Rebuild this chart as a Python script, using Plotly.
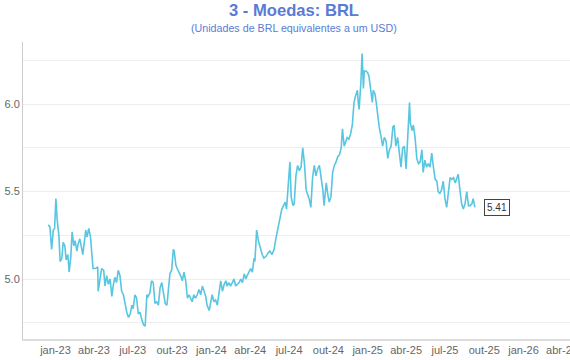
import plotly.graph_objects as go

dates = [
"2022-12-15","2022-12-19","2022-12-23","2022-12-27","2022-12-30",
"2023-01-02","2023-01-05","2023-01-09","2023-01-12","2023-01-16","2023-01-19","2023-01-23","2023-01-26","2023-01-30",
"2023-02-02","2023-02-06","2023-02-09","2023-02-13","2023-02-16","2023-02-20","2023-02-23","2023-02-27",
"2023-03-03","2023-03-06","2023-03-09","2023-03-13","2023-03-16","2023-03-20","2023-03-24","2023-03-28","2023-03-30",
"2023-04-05","2023-04-10","2023-04-11","2023-04-14","2023-04-19","2023-04-24","2023-04-27",
"2023-05-01","2023-05-05","2023-05-09","2023-05-13","2023-05-16","2023-05-20","2023-05-24","2023-05-28",
"2023-06-01","2023-06-05","2023-06-09","2023-06-13","2023-06-17","2023-06-21","2023-06-25","2023-06-29",
"2023-07-02","2023-07-06","2023-07-10","2023-07-14","2023-07-18","2023-07-22","2023-07-26","2023-07-30",
"2023-08-03","2023-08-06","2023-08-10","2023-08-14","2023-08-18","2023-08-22","2023-08-26","2023-08-30",
"2023-09-03","2023-09-07","2023-09-11","2023-09-15","2023-09-19","2023-09-22","2023-09-26","2023-09-30",
"2023-10-04","2023-10-06","2023-10-10","2023-10-13","2023-10-17","2023-10-21","2023-10-25","2023-10-29",
"2023-11-02","2023-11-06","2023-11-10","2023-11-14","2023-11-17","2023-11-21","2023-11-25","2023-11-29",
"2023-12-03","2023-12-07","2023-12-11","2023-12-15","2023-12-19","2023-12-22","2023-12-27","2023-12-30",
"2024-01-03","2024-01-07","2024-01-11","2024-01-15","2024-01-19","2024-01-23","2024-01-27","2024-01-31",
"2024-02-04","2024-02-07","2024-02-11","2024-02-15","2024-02-19","2024-02-23","2024-02-27",
"2024-03-02","2024-03-06","2024-03-10","2024-03-14","2024-03-18","2024-03-22","2024-03-25","2024-03-29",
"2024-04-02","2024-04-06","2024-04-10","2024-04-12","2024-04-16","2024-04-20","2024-04-24","2024-04-29",
"2024-05-03","2024-05-08","2024-05-13","2024-05-17","2024-05-22","2024-05-27","2024-05-31",
"2024-06-06","2024-06-10","2024-06-14","2024-06-18","2024-06-22","2024-06-25","2024-06-29",
"2024-07-03","2024-07-06","2024-07-10","2024-07-13","2024-07-17","2024-07-21","2024-07-25","2024-07-29",
"2024-08-02","2024-08-06","2024-08-10","2024-08-14","2024-08-17","2024-08-21","2024-08-25","2024-08-29",
"2024-09-02","2024-09-06","2024-09-10","2024-09-14","2024-09-18","2024-09-21","2024-09-26","2024-09-30",
"2024-10-03","2024-10-07","2024-10-11","2024-10-15","2024-10-19","2024-10-23","2024-10-27","2024-10-31",
"2024-11-03","2024-11-07","2024-11-11","2024-11-14","2024-11-18","2024-11-22","2024-11-26","2024-11-30",
"2024-12-04","2024-12-08","2024-12-10","2024-12-12","2024-12-16","2024-12-19","2024-12-22","2024-12-24","2024-12-28",
"2025-01-01","2025-01-04","2025-01-08","2025-01-12","2025-01-14","2025-01-18","2025-01-21","2025-01-25","2025-01-28",
"2025-02-01","2025-02-05","2025-02-09","2025-02-13","2025-02-17","2025-02-21","2025-02-25",
"2025-03-01","2025-03-04","2025-03-08","2025-03-12","2025-03-16","2025-03-20","2025-03-24","2025-03-28",
"2025-04-01","2025-04-05","2025-04-09","2025-04-11","2025-04-15","2025-04-18","2025-04-22","2025-04-26","2025-04-30",
"2025-05-04","2025-05-08","2025-05-11","2025-05-15","2025-05-19","2025-05-23","2025-05-27","2025-05-31",
"2025-06-04","2025-06-08","2025-06-12","2025-06-15","2025-06-19","2025-06-23","2025-06-27",
"2025-07-01","2025-07-05","2025-07-09","2025-07-13","2025-07-17","2025-07-21","2025-07-25","2025-07-29",
"2025-08-01","2025-08-05","2025-08-09","2025-08-13","2025-08-17","2025-08-21","2025-08-25","2025-08-29",
"2025-09-02","2025-09-05","2025-09-09",
]

brl = [
5.31,5.30,5.17,5.28,5.29,
5.46,5.34,5.25,5.10,5.12,5.21,5.19,5.11,5.14,
5.04,5.13,5.27,5.19,5.22,5.16,5.20,5.23,
5.18,5.14,5.20,5.28,5.24,5.29,5.24,5.14,5.06,
5.06,5.07,4.93,4.99,5.06,5.05,4.96,
5.02,4.97,5.00,4.90,4.96,5.01,4.98,5.05,
5.02,4.93,4.91,4.85,4.81,4.78,4.80,4.85,
4.83,4.91,4.89,4.80,4.81,4.77,4.74,4.73,
4.91,4.90,4.92,4.99,4.98,4.86,4.87,4.85,
4.95,4.98,4.93,4.86,4.85,4.94,5.03,5.05,
5.17,5.16,5.08,5.06,5.04,5.02,4.99,5.04,
4.99,4.89,4.91,4.89,4.87,4.91,4.89,4.91,
4.94,4.91,4.96,4.93,4.90,4.85,4.82,4.86,
4.91,4.87,4.88,4.85,4.91,4.99,4.93,4.97,
4.99,4.96,4.98,4.96,4.98,5.00,4.96,
4.97,4.98,5.00,4.98,5.03,5.00,5.02,5.04,
5.06,5.04,5.12,5.10,5.28,5.22,5.18,5.14,
5.12,5.13,5.15,5.16,5.14,5.17,5.23,
5.30,5.35,5.40,5.42,5.44,5.40,5.52,
5.67,5.47,5.42,5.43,5.59,5.65,5.62,5.64,
5.75,5.66,5.51,5.48,5.46,5.41,5.58,5.65,
5.59,5.63,5.65,5.58,5.51,5.42,5.55,5.48,
5.44,5.47,5.61,5.65,5.67,5.70,5.71,5.75,
5.86,5.76,5.79,5.81,5.80,5.83,5.88,6.01,
6.05,6.08,6.01,5.97,6.12,6.29,6.09,6.19,6.19,
6.18,6.16,6.08,6.01,6.08,6.06,6.01,5.92,5.87,
5.82,5.76,5.81,5.79,5.69,5.74,5.76,
5.87,5.88,5.76,5.81,5.71,5.64,5.75,5.76,
5.63,5.82,6.01,5.89,5.85,5.88,5.81,5.69,5.66,
5.67,5.74,5.61,5.68,5.64,5.66,5.64,5.72,
5.64,5.57,5.56,5.50,5.49,5.51,5.56,
5.46,5.41,5.49,5.58,5.57,5.58,5.55,5.58,
5.60,5.51,5.43,5.40,5.43,5.50,5.42,5.42,
5.43,5.46,5.41,
]

x_tick_vals = ["2023-01-01","2023-04-01","2023-07-01","2023-10-01",
               "2024-01-01","2024-04-01","2024-07-01","2024-10-01",
               "2025-01-01","2025-04-01","2025-07-01","2025-10-01",
               "2026-01-01","2026-04-01"]
x_tick_text = ["jan-23","abr-23","jul-23","out-23","jan-24","abr-24","jul-24",
               "out-24","jan-25","abr-25","jul-25","out-25","jan-26","abr-26"]
y_tick_vals = [4.75, 5.0, 5.25, 5.5, 5.75, 6.0, 6.25]
y_tick_text = ["", "5.0", "", "5.5", "", "6.0", ""]

title_text = "3 - Moedas: BRL"
subtitle_text = "(Unidades de BRL equivalentes a um USD)"
last_label = f"{brl[-1]:.2f}"

FONT = "Liberation Sans, Arial, Helvetica, sans-serif"
TITLE_COLOR = "#5a7bd5"

fig = go.Figure()
fig.add_trace(go.Scatter(
    x=dates, y=brl, mode="lines",
    line=dict(color="#58c6e0", width=1.6),
    hoverinfo="x+y", showlegend=False,
))

fig.add_annotation(
    x=dates[-1], y=brl[-1], xref="x", yref="y",
    text=last_label, showarrow=False,
    xanchor="left", yanchor="middle", xshift=9,
    font=dict(family=FONT, size=10, color="#333"),
    bgcolor="white", bordercolor="#444", borderwidth=1, borderpad=2,
)
fig.add_annotation(
    x=0.4697, y=1.1044, xref="paper", yref="paper",
    text=f"<b>{title_text}</b>", showarrow=False,
    xanchor="center", yanchor="middle",
    font=dict(family=FONT, size=16.6, color=TITLE_COLOR),
)
fig.add_annotation(
    x=0.4697, y=1.0455, xref="paper", yref="paper",
    text=subtitle_text, showarrow=False,
    xanchor="center", yanchor="middle",
    font=dict(family=FONT, size=10.7, color=TITLE_COLOR),
)

fig.update_layout(
    width=600, height=360,
    margin=dict(l=23, r=0, t=42, b=21, pad=0),
    paper_bgcolor="white", plot_bgcolor="white",
    font=dict(family=FONT, size=11, color="#666"),
    showlegend=False,
    xaxis=dict(
        type="date",
        range=["2022-10-17", "2026-06-29"],
        tickmode="array", tickvals=x_tick_vals, ticktext=x_tick_text,
        showgrid=False, zeroline=False,
        showline=True, linecolor="#dddddd", linewidth=2,
        ticks="", ticklen=0,
        tickfont=dict(family=FONT, size=11, color="#666"),
        automargin=False, fixedrange=True,
    ),
    yaxis=dict(
        range=[4.657, 6.356],
        tickmode="array", tickvals=y_tick_vals, ticktext=y_tick_text,
        showgrid=True, gridcolor="#eeeeee", gridwidth=1,
        zeroline=False,
        showline=True, linecolor="#cccccc", linewidth=1,
        ticks="", ticklen=0,
        tickfont=dict(family=FONT, size=11, color="#666"),
        automargin=False, fixedrange=True,
    ),
)

fig.write_html(
    "out.html",
    config={"displayModeBar": False},
    post_script="document.body.style.margin='0';document.body.style.overflow='hidden';",
)
